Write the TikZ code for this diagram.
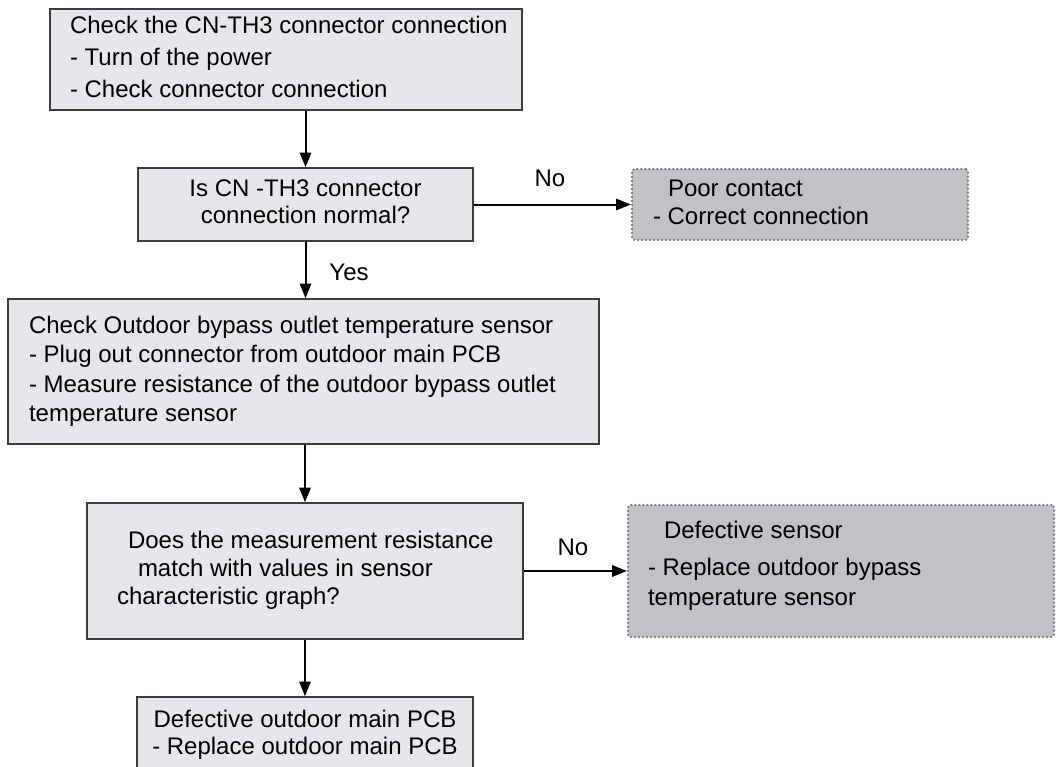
\documentclass[tikz,border=0pt]{standalone}
\usepackage{fontspec}
\setmainfont{Liberation Sans}
\usetikzlibrary{arrows.meta}
\definecolor{boxfill}{HTML}{E6E7EA}
\definecolor{boxline}{HTML}{3C3C3C}
\definecolor{altfill}{HTML}{C0C2C6}
\definecolor{dotline}{HTML}{767676}
% left-aligned block of lines inside a box of width #1, starting #2 from its left edge
\newcommand{\lblock}[3]{\makebox[#1][l]{\hspace*{#2}\begin{tabular}{@{}l@{}}#3\end{tabular}}}
\newcommand{\cblock}[1]{\begin{tabular}{@{}c@{}}#1\end{tabular}}
\tikzset{
  box/.style={draw=boxline, line width=1.1pt, fill=boxfill, inner sep=0pt},
  altbox/.style={draw=dotline, fill=altfill, line width=1.8pt, dash pattern=on 0pt off 3pt, line cap=round, rounded corners=2pt, inner sep=0pt},
  conn/.style={line width=1.5pt, -{Triangle[length=11pt,width=8.5pt]}},
  lbl/.style={font=\fontsize{18}{21}\selectfont, inner sep=0pt}
}
\begin{document}
\begin{tikzpicture}[x=0.75pt,y=-0.75pt]
\useasboundingbox (0,0) rectangle (1056,767);
\node[box, minimum width=354pt, minimum height=75.75pt, font=\fontsize{18}{24}\selectfont] (b1) at (286,59.5)
  {\lblock{354pt}{15pt}{Check the CN-TH3 connector connection\\- Turn of the power\\- Check connector connection}};
\node[box, minimum width=251.25pt, minimum height=54.75pt, font=\fontsize{18}{20.6}\selectfont] (b2) at (305.5,204.5)
  {\cblock{Is CN -TH3 connector\\connection normal?}};
\node[altbox, minimum width=252pt, minimum height=53.25pt, font=\fontsize{18}{21}\selectfont] (pc) at (800,204.5)
  {\lblock{252pt}{15.75pt}{\hspace*{11.25pt}Poor contact\\- Correct connection}};
\node[box, minimum width=443.25pt, minimum height=108.75pt, font=\fontsize{18}{22}\selectfont] (b3) at (303.5,371.5)
  {\lblock{443.25pt}{15.75pt}{Check Outdoor bypass outlet temperature sensor\\- Plug out connector from outdoor main PCB\\- Measure resistance of the outdoor bypass outlet\\temperature sensor}};
\node[box, minimum width=327pt, minimum height=102pt, font=\fontsize{18}{21}\selectfont] (b4) at (305,571)
  {\lblock{327pt}{22.5pt}{\hspace*{8.25pt}Does the measurement resistance\\\hspace*{15.75pt}match with values in sensor\\characteristic graph?}};
\node[altbox, minimum width=319.5pt, minimum height=99pt, font=\fontsize{18}{22.5}\selectfont] (ds) at (841,571)
  {\lblock{319.5pt}{15pt}{\hspace*{12pt}Defective sensor\\[5pt]- Replace outdoor bypass\\temperature sensor\rule[-14pt]{0pt}{0pt}}};
\node[box, minimum width=252pt, minimum height=58.5pt, font=\fontsize{18}{20.3}\selectfont] (b5) at (305,736)
  {\cblock{Defective outdoor main PCB\\- Replace outdoor main PCB}};
\draw[conn] (b2.north |- b1.south) -- (b2.north);
\draw[conn] (b2.east) -- (pc.west);
\draw[conn] (b2.south) -- (b2.south |- b3.north);
\draw[conn] (b4.north |- b3.south) -- (b4.north);
\draw[conn] (b4.east) -- (ds.west);
\draw[conn] (b4.south) -- (b5.north);
\node[lbl] (no1) at (550,178) {No};
\node[lbl] (yes) at (349,272) {Yes};
\node[lbl] (no2) at (573,547) {No};
\end{tikzpicture}
\end{document}
